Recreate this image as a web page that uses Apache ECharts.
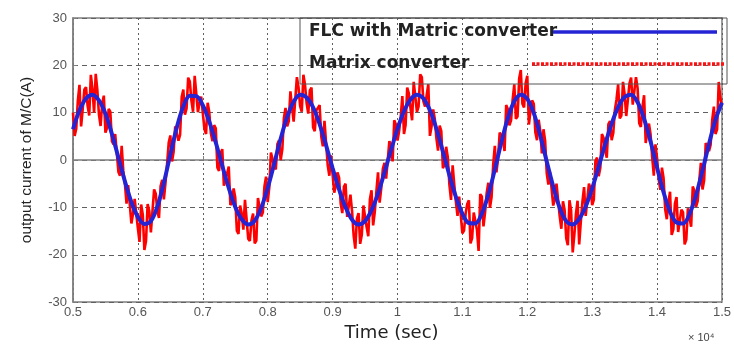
<!DOCTYPE html>
<html>
<head>
<meta charset="utf-8">
<script src="https://cdn.jsdelivr.net/npm/echarts@6/dist/echarts.min.js"></script>
<style>
html,body{margin:0;padding:0;background:#fff;}
#chart{width:734px;height:347px;}
</style>
</head>
<body>
<div id="chart"></div>
<script>
// ---- data (time in units of 1e4, current in A) ----
const tStart = 0.5;
const blueStep = 0.01;
const redStep = 0.005;

// FLC with matrix converter (smooth current)
const flcCurrent = [
  6.5, 10.5, 13.0, 13.8, 12.6, 9.8, 5.5, 0.5, -4.5, -8.9,
  -12.0, -13.5, -12.9, -9.8, -4.8, 1.2, 6.9, 11.3, 13.6, 13.5,
  11.6, 8.1, 3.7, -1.2, -5.9, -9.9, -12.5, -13.6, -12.8, -10.1,
  -5.9, -0.8, 4.5, 9.1, 12.3, 13.8, 13.2, 11.1, 7.6, 3.1,
  -1.7, -6.2, -10.0, -12.6, -13.6, -12.9, -10.6, -7.1, -2.6, 2.1,
  6.6, 10.3, 12.8, 13.8, 13.0, 10.5, 6.6, 1.8, -3.2, -7.8,
  -11.3, -13.3, -13.4, -11.3, -7.3, -2.0, 3.7, 8.8, 12.4, 13.8,
  12.9, 9.9, 5.2, -0.3, -5.6, -10.1, -12.9, -13.6, -12.4, -9.8,
  -6.0, -1.4, 3.3, 7.7, 11.2, 13.3, 13.8, 12.2, 8.7, 3.9,
  -1.6, -6.8, -10.9, -13.2, -13.4, -11.4, -7.4, -2.2, 3.4, 8.5,
  12.1
];

// Matrix converter (noisy current), samples on the 0.005 grid
const mcCurrentOnGrid = [
  10.0, 6.6, 15.9, 10.8, 15.4, 9.4, 15.0, 18.2, 9.6, 12.0,
  5.8, 10.8, 4.0, 5.5, -2.5, 3.0, -5.0, -5.3, -13.4, -8.2,
  -14.4, -9.4, -19.0, -9.3, -15.3, -6.2, -10.8, -5.5, -8.3, -0.8,
  5.2, 1.7, 7.4, 5.3, 14.9, 10.9, 16.6, 10.2, 17.5, 12.1,
  13.4, 5.5, 10.1, 4.0, 6.7, -2.3, 2.3, -5.6, -1.4, -9.0,
  -7.9, -15.6, -11.3, -8.4, -16.6, -12.8, -17.6, -8.0, -11.9, -5.6,
  -8.9, 1.6, -1.3, 3.4, 0.0, 8.9, 7.1, 14.5, 8.1, 17.5,
  11.4, 18.0, 12.0, 14.7, 6.9, 10.5, 11.6, 2.9, 3.6, -3.3,
  1.3, -5.5, -3.7, -11.2, -5.0, -12.1, -10.8, -18.7, -11.2, -15.8,
  -9.3, -16.1, -6.4, -11.0, -2.6, -5.9, -0.6, -3.7, 3.1, 8.4,
  4.1, 9.1, 5.5, 15.3, 11.0, 16.5, 10.2, 18.1, 12.4, 13.7,
  5.1, 10.7, 4.6, 7.3, -1.7, 2.8, -5.2, -1.1, -8.8, -7.7,
  -15.5, -11.3, -8.5, -16.5, -12.8, -19.2, -7.7, -11.0, -4.8, -7.8,
  3.0, 0.4, 5.2, 1.9, 10.8, 8.4, 16.0, 9.2, 19.0, 11.1,
  17.8, 10.4, 11.9, 4.2, 6.2, 6.5, -2.8, -2.5, -9.6, -5.0,
  -11.9, -8.7, -16.5, -8.5, -19.5, -11.4, -17.8, -8.8, -11.8, -5.0,
  -9.5, -0.2, -3.4, 5.5, 2.3, 7.6, 4.2, 10.6, 16.0, 9.4,
  13.9, 8.9, 17.4, 11.4, 15.2, 7.0, 13.7, 5.9, 5.4, -3.3,
  0.4, -6.3, -3.8, -12.5, -6.7, -14.7, -7.8, -14.8, -11.0, -16.8,
  -10.2, -5.6, -9.9, -4.4, -6.2, 3.6, 1.9, 8.5, 5.5, 16.5,
  11.6
];

// Matrix converter (noisy current), samples half a step after each grid point
const mcCurrentHalf = [
  5.1, 12.6, 7.1, 14.9, 11.5, 18.0, 10.0, 14.8, 7.2, 13.6,
  6.8, 10.2, 3.3, 5.8, -3.3, -2.3, -9.2, -4.9, -11.3, -8.3,
  -17.3, -11.5, -17.1, -10.8, -15.3, -7.1, -12.2, -4.2, -4.8, 3.7,
  -0.3, 7.1, 4.1, 13.3, 9.6, 17.4, 12.5, 17.8, 10.1, 13.4,
  6.6, 12.1, 5.6, 7.4, -1.6, 1.5, -5.4, -2.8, -9.5, -6.0,
  -14.9, -9.6, -14.7, -8.6, -17.1, -11.3, -17.0, -7.9, -11.1, -3.5,
  -5.7, 1.9, -2.0, 4.2, 2.2, 11.0, 8.2, 14.6, 8.0, 15.4,
  10.2, 15.9, 9.8, 15.3, 6.1, 10.6, 5.0, 8.3, -1.1, 1.0,
  -6.9, -2.6, -9.2, -5.6, -12.0, -7.3, -16.0, -12.3, -17.7, -9.6,
  -14.2, -8.3, -13.8, -6.6, -9.0, -1.8, -3.9, 4.0, -0.3, 7.5,
  6.1, 13.5, 7.4, 14.1, 8.4, 16.7, 11.3, 17.5, 11.3, 16.0,
  7.1, 8.7, 2.0, 6.1, -1.0, 0.6, -8.4, -5.2, -11.8, -8.1,
  -14.9, -9.3, -17.6, -11.1, -14.8, -7.2, -14.0, -6.9, -10.1, -0.9,
  -2.6, 5.8, 4.1, 11.6, 7.3, 12.8, 8.7, 17.2, 11.9, 16.2,
  7.5, 12.6, 5.8, 8.5, 1.4, 4.1, -5.2, -2.3, -8.3, -5.1,
  -14.5, -10.5, -18.0, -10.6, -15.8, -8.6, -13.0, -5.7, -11.4, -6.0,
  -8.4, 0.5, -1.7, 4.7, 0.5, 8.2, 5.7, 12.8, 8.8, 16.5,
  9.3, 16.2, 11.7, 17.5, 7.8, 11.2, 3.6, 7.7, 0.6, 3.3,
  -4.0, -1.6, -10.4, -9.0, -15.8, -9.2, -15.2, -10.5, -17.8, -10.2,
  -14.1, -6.5, -8.7, -0.6, -4.3, 4.0, 3.2, 11.3, 6.5, 13.1
];

const xTickLabels = ['0.5','0.6','0.7','0.8','0.9','1','1.1','1.2','1.3','1.4','1.5'];
const yTickLabels = ['-30','-20','-10','0','10','20','30'];
const seriesNames = ['FLC with Matric converter', 'Matrix converter'];

// ---- build series pairs ----
const bluePairs = flcCurrent.map((v, i) => [+(tStart + i * blueStep).toFixed(4), v]);
const redPairs = [];
mcCurrentOnGrid.forEach((v, i) => {
  redPairs.push([+(tStart + i * redStep).toFixed(5), v]);
  if (i < mcCurrentHalf.length) {
    redPairs.push([+(tStart + (i + 0.5) * redStep).toFixed(5), mcCurrentHalf[i]]);
  }
});

const chart = echarts.init(document.getElementById('chart'), null, {renderer: 'canvas'});
const gridL = 73, gridR = 7, gridT = 18, gridB = 37;

chart.setOption({
  animation: false,
  backgroundColor: '#ffffff',
  grid: {left: gridL, right: gridR, top: gridT, bottom: gridB, show: true,
         borderColor: '#7f7f7f', borderWidth: 1.5, backgroundColor: 'transparent'},
  xAxis: {
    type: 'value', min: 0.5, max: 1.5, interval: 0.1,
    name: 'Time (sec)', nameLocation: 'middle', nameGap: 17,
    nameTextStyle: {fontFamily: 'DejaVu Sans', fontSize: 18, color: '#222', padding: [0, 12, 0, 0]},
    axisLine: {show: true, lineStyle: {color: '#7f7f7f', width: 1.5}},
    axisTick: {show: true, inside: true, length: 4, lineStyle: {color: '#7f7f7f'}},
    axisLabel: {
      margin: 4, fontFamily: 'Liberation Sans', fontSize: 13, color: '#555',
      formatter: v => xTickLabels[Math.round((v - 0.5) / 0.1)]
    },
    splitLine: {show: true, lineStyle: {color: '#606060', type: [2, 3], width: 1}}
  },
  yAxis: {
    type: 'value', min: -30, max: 30, interval: 10,
    name: 'output current of M/C(A)', nameLocation: 'middle', nameGap: 38,
    nameTextStyle: {fontFamily: 'Liberation Sans', fontSize: 15.5, color: '#222'},
    axisLine: {show: true, lineStyle: {color: '#7f7f7f', width: 1.5}},
    axisTick: {show: true, inside: true, length: 4, lineStyle: {color: '#7f7f7f'}},
    axisLabel: {
      margin: 6, fontFamily: 'Liberation Sans', fontSize: 13, color: '#555',
      formatter: v => yTickLabels[Math.round((v + 30) / 10)]
    },
    splitLine: {show: true, lineStyle: {color: '#606060', type: [5, 4], width: 1}}
  },
  series: [
    {
      name: seriesNames[1], type: 'line', data: redPairs, showSymbol: false,
      lineStyle: {color: '#ff0000', width: 2.6}, z: 2
    },
    {
      name: seriesNames[0], type: 'line', data: bluePairs, showSymbol: false, smooth: 0.35,
      lineStyle: {color: '#2424d4', width: 4}, z: 3
    }
  ],
  graphic: [
    {type: 'rect', shape: {x: 300, y: 18, width: 427, height: 66},
     style: {fill: 'transparent', stroke: '#555', lineWidth: 1}, z: 10},
    {type: 'text', x: 309, y: 32,
     style: {text: seriesNames[0], fontFamily: 'DejaVu Sans', fontWeight: 'bold', fontSize: 17,
             fill: '#222', textVerticalAlign: 'middle', verticalAlign: 'middle'}, z: 11},
    {type: 'line', shape: {x1: 553, y1: 32, x2: 717, y2: 32},
     style: {stroke: '#2424d4', lineWidth: 3.5}, z: 11},
    {type: 'text', x: 309, y: 64,
     style: {text: seriesNames[1], fontFamily: 'DejaVu Sans', fontWeight: 'bold', fontSize: 17,
             fill: '#222', textVerticalAlign: 'middle', verticalAlign: 'middle'}, z: 11},
    {type: 'line', shape: {x1: 532, y1: 64, x2: 725, y2: 64},
     style: {stroke: '#ff1010', lineWidth: 3.5, lineDash: [3, 1.5]}, z: 11},
    {type: 'text', x: 688, y: 338,
     style: {text: '× 10⁴', fontFamily: 'Liberation Sans', fontSize: 11, fill: '#444',
             textVerticalAlign: 'middle', verticalAlign: 'middle'}, z: 11}
  ]
});
</script>
</body>
</html>
